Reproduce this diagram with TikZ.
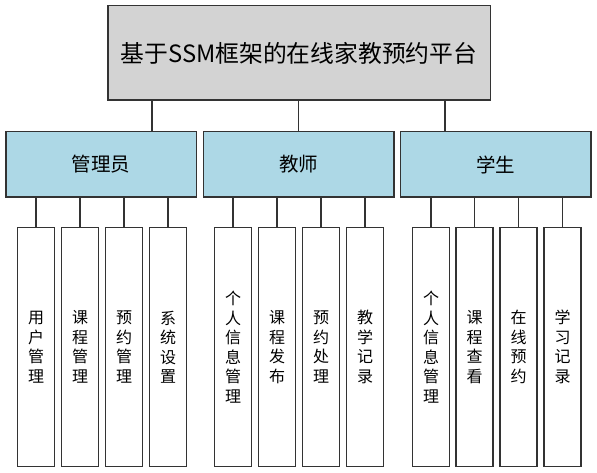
\documentclass[tikz,border=0pt]{standalone}
\usepackage{fontspec}
\newfontfamily\cjk{Noto Sans CJK SC}
\definecolor{titlegray}{RGB}{211,211,211}
\definecolor{roleblue}{RGB}{173,216,230}
\begin{document}
\begin{tikzpicture}[x=1pt, y=-1pt,
    box/.style={draw=black!80, line width=1.5pt, inner sep=0pt, font=\cjk},
    leaf/.style={box, fill=white, minimum width=37pt, minimum height=238.5pt,
        align=center, font=\cjk\fontsize{16}{19.5}\selectfont},
    role/.style={box, fill=roleblue, minimum width=190.5pt, minimum height=65.5pt,
        font=\cjk\fontsize{19.5}{22}\selectfont},
    link/.style={draw=black!80, line width=1.5pt}]
    \useasboundingbox (0,0) rectangle (597,473);
    \node[box, fill=titlegray, minimum width=382.5pt, minimum height=94.5pt,
        font=\cjk\fontsize{23.8}{28}\selectfont] (top) at (299,53) {基于SSM框架的在线家教预约平台};
    \node[role] (admin) at (101,164.5) {管理员};
    \node[role] (teacher) at (298.5,164.5) {教师};
    \node[role] (student) at (495.5,164.5) {学生};
    \foreach \dx/\r in {-147/admin, -0.5/teacher, 146/student}
        \draw[link] ([xshift=\dx pt]top.south) -- ([xshift=\dx pt]top.south |- \r.north);
    \foreach \i/\x/\r/\t in {1/36/admin/用\\户\\管\\理, 2/80/admin/课\\程\\管\\理,
        3/124/admin/预\\约\\管\\理, 4/168/admin/系\\统\\设\\置,
        5/233/teacher/个\\人\\信\\息\\管\\理, 6/277/teacher/课\\程\\发\\布,
        7/321/teacher/预\\约\\处\\理, 8/365/teacher/教\\学\\记\\录,
        9/431/student/个\\人\\信\\息\\管\\理, 10/474.5/student/课\\程\\查\\看,
        11/518.5/student/在\\线\\预\\约, 12/562.5/student/学\\习\\记\\录} {
        \node[leaf] (l\i) at (\x,347) {\t};
        \draw[link] (l\i.north |- \r.south) -- (l\i.north);
    }
\end{tikzpicture}
\end{document}
